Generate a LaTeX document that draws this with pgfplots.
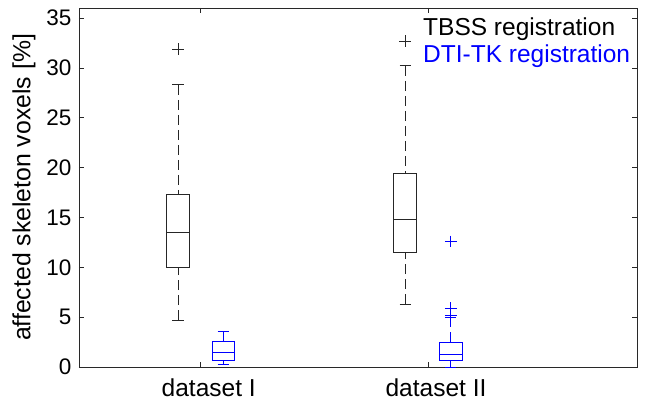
\documentclass[border=0pt]{standalone}
\usepackage{fontspec}
\setmainfont{Liberation Sans}
\usepackage{pgfplots}
\pgfplotsset{compat=1.18}
\usepgfplotslibrary{statistics}
\definecolor{mblue}{RGB}{0,0,255}
\definecolor{axgray}{RGB}{40,40,40}
\pgfplotsset{
  boxplot/draw/lower whisker/.code={%
    \draw[/pgfplots/boxplot/every whisker/.try, dash pattern=on 10pt off 5pt]
      (boxplot cs:\pgfplotsboxplotvalue{lower whisker},0) -- (boxplot cs:\pgfplotsboxplotvalue{lower quartile},0);
    \draw[/pgfplots/boxplot/every whisker/.try, solid]
      (boxplot whisker cs:\pgfplotsboxplotvalue{lower whisker},0) -- (boxplot whisker cs:\pgfplotsboxplotvalue{lower whisker},1);
  },
  boxplot/draw/upper whisker/.code={%
    \draw[/pgfplots/boxplot/every whisker/.try, dash pattern=on 10pt off 5pt]
      (boxplot cs:\pgfplotsboxplotvalue{upper whisker},0) -- (boxplot cs:\pgfplotsboxplotvalue{upper quartile},0);
    \draw[/pgfplots/boxplot/every whisker/.try, solid]
      (boxplot whisker cs:\pgfplotsboxplotvalue{upper whisker},0) -- (boxplot whisker cs:\pgfplotsboxplotvalue{upper whisker},1);
  },
}
\begin{document}
\begin{tikzpicture}
\begin{axis}[
  scale only axis,
  width=558pt, height=359pt,
  xmin=0.4646, xmax=2.9195,
  ymin=0, ymax=36,
  xtick={1,2}, xticklabels={dataset I, dataset II},
  ytick={0,5,...,35},
  tick align=inside,
  major tick length=5pt,
  axis line style={axgray, line width=0.6pt},
  every tick/.style={axgray, line width=0.6pt},
  /pgf/number format/assume math mode=true,
  ticklabel style={font=\fontsize{22.5}{26}\selectfont},
  yticklabel style={xshift=-4pt},
  xticklabel style={yshift=-8pt, xshift=8pt, font=\fontsize{24.5}{28}\selectfont},
  ylabel={affected skeleton voxels [\%]},
  ylabel style={at={(axis description cs:-0.0717,0.5)}, anchor=south, font=\fontsize{24.8}{28}\selectfont},
  clip=false,
  boxplot/draw direction=y,
  boxplot/box extend=0.1,
  boxplot/whisker extend=0.05,
]
% TBSS dataset I
\addplot[black!85, line width=0.9pt, mark=+, mark size=5.8pt, mark options={solid, line width=0.7pt},
  boxplot prepared={draw direction=y, draw position=0.9, lower whisker=4.7, lower quartile=10.0, median=13.5, upper quartile=17.3, upper whisker=28.3}]
  table[row sep=\\, y index=0] {v\\ 31.9\\};
% DTI-TK dataset I
\addplot[mblue, line width=0.9pt, mark=+, mark size=5.8pt, mark options={solid, line width=0.7pt},
  boxplot prepared={draw direction=y, draw position=1.1, lower whisker=0.27, lower quartile=0.7, median=1.5, upper quartile=2.6, upper whisker=3.6}]
  coordinates {};
% TBSS dataset II
\addplot[black!85, line width=0.9pt, mark=+, mark size=5.8pt, mark options={solid, line width=0.7pt},
  boxplot prepared={draw direction=y, draw position=1.9, lower whisker=6.3, lower quartile=11.5, median=14.8, upper quartile=19.4, upper whisker=30.2}]
  table[row sep=\\, y index=0] {v\\ 32.7\\};
% DTI-TK dataset II
\addplot[mblue, line width=0.9pt, mark=+, mark size=5.8pt, mark options={solid, line width=0.7pt},
  boxplot prepared={draw direction=y, draw position=2.1, lower whisker=0.0, lower quartile=0.7, median=1.23, upper quartile=2.47, upper whisker=5.0}]
  table[row sep=\\, y index=0] {v\\ 12.6\\ 5.9\\ 5.2\\};
\node[anchor=base west, inner sep=0pt, font=\fontsize{24.5}{29}\selectfont] at (axis cs:1.978,33.2) {TBSS registration};
\node[anchor=base west, inner sep=0pt, font=\fontsize{24.5}{29}\selectfont, text=mblue] at (axis cs:1.978,30.5) {DTI-TK registration};
\coordinate (SW) at (rel axis cs:0,0);
\coordinate (NE) at (rel axis cs:1,1);
\end{axis}
\pgfresetboundingbox
\path ([shift={(-79pt,-33pt)}]SW) rectangle ([shift={(12pt,8pt)}]NE);
\end{tikzpicture}
\end{document}
